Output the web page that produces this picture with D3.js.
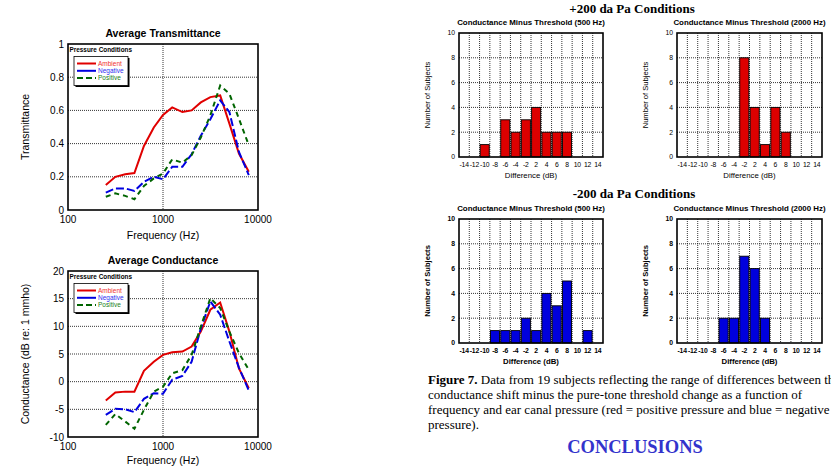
<!DOCTYPE html>
<html>
<head>
<meta charset="utf-8">
<script src="https://cdn.jsdelivr.net/npm/d3@7"></script>
<style>
  body { margin: 0; background: #fff; }
  svg { display: block; font-family: "Liberation Sans", Arial, sans-serif; }
  .grid line { stroke: #000; stroke-width: 0.8; stroke-dasharray: 1 1; }
  .serif { font-family: "Liberation Serif", "Times New Roman", serif; }
</style>
</head>
<body>
<svg id="fig" width="831" height="466"></svg>
<script>
// frequencies (Hz), 1/3 octave
const freqs = [250, 315, 400, 500, 630, 800, 1000, 1250, 1600, 2000, 2500, 3150, 4000, 5000, 6300, 8000];

const transAmbient  = [0.15, 0.20, 0.215, 0.223, 0.386, 0.497, 0.573, 0.618, 0.59, 0.60, 0.648, 0.68, 0.69, 0.52, 0.34, 0.23];
const transNegative = [0.105, 0.13, 0.13, 0.115, 0.17, 0.20, 0.185, 0.26, 0.26, 0.336, 0.447, 0.547, 0.66, 0.59, 0.35, 0.21];
const transPositive = [0.08, 0.10, 0.085, 0.065, 0.145, 0.19, 0.22, 0.305, 0.285, 0.33, 0.437, 0.57, 0.75, 0.70, 0.55, 0.39];

const condAmbient  = [-3.4, -1.95, -1.8, -1.8, 1.96, 3.6, 4.85, 5.3, 5.45, 6.35, 9.05, 13.0, 14.3, 9.05, 2.4, -1.2];
const condNegative = [-6.0, -4.9, -5.0, -5.5, -3.1, -2.1, -2.2, 0.35, 1.05, 3.6, 9.6, 14.5, 12.1, 7.25, 2.55, -1.6];
const condPositive = [-7.8, -5.85, -7.2, -8.5, -5.1, -1.8, -0.9, 1.5, 2.1, 4.85, 9.95, 15.1, 13.3, 9.05, 5.15, 2.15];

const seriesNames = ["Ambient", "Negative", "Positive"];
const seriesColors = ["#e00000", "#0000e0", "#006400"];
const legendTextColors = ["#f03030", "#3030f0", "#208020"];
const seriesDash = [null, "8 3", "5 4"];

// histogram categories (dB difference)
const diffCats = ["-14", "-12", "-10", "-8", "-6", "-4", "-2", "2", "4", "6", "8", "10", "12", "14"];
const pos500  = [0, 0, 1, 0, 3, 2, 3, 4, 2, 2, 2, 0, 0, 0];
const pos2000 = [0, 0, 0, 0, 0, 0, 8, 4, 1, 4, 2, 0, 0, 0];
const neg500  = [0, 0, 0, 1, 1, 1, 2, 1, 4, 3, 5, 0, 1, 0];
const neg2000 = [0, 0, 0, 0, 2, 2, 7, 6, 2, 0, 0, 0, 0, 0];

const captionLines = [
  ["Figure 7.", " Data from 19 subjects reflecting the range of differences between the"],
  ["", "conductance shift minus the pure-tone threshold change as a function of"],
  ["", "frequency and ear canal pressure (red = positive pressure and blue = negative"],
  ["", "pressure)."]
];

const svg = d3.select("#fig");

function lineChart(opt) {
  const g = svg.append("g");
  const x = d3.scaleLog().domain([100, 10000]).range([opt.x0, opt.x1]);
  const y = d3.scaleLinear().domain(opt.yDomain).range([opt.y1, opt.y0]);

  const grid = g.append("g").attr("class", "grid");
  grid.selectAll(".hy").data(opt.yTicks.slice(1, -1)).enter().append("line")
    .attr("x1", opt.x0).attr("x2", opt.x1)
    .attr("y1", d => y(d)).attr("y2", d => y(d));
  grid.append("line")
    .attr("x1", x(1000)).attr("x2", x(1000))
    .attr("y1", opt.y0).attr("y2", opt.y1);

  const line = d3.line().x((d, i) => x(freqs[i])).y(d => y(d));
  opt.series.forEach((s, k) => {
    g.append("path").datum(s)
      .attr("d", line)
      .attr("fill", "none")
      .attr("stroke", seriesColors[k])
      .attr("stroke-width", 2)
      .attr("stroke-dasharray", seriesDash[k]);
  });

  g.append("rect")
    .attr("x", opt.x0).attr("y", opt.y0)
    .attr("width", opt.x1 - opt.x0).attr("height", opt.y1 - opt.y0)
    .attr("fill", "none").attr("stroke", "#000").attr("stroke-width", 1.6);

  // tick labels
  g.selectAll(".yt").data(opt.yTicks).enter().append("text")
    .attr("x", opt.x0 - 4).attr("y", d => y(d) + 3.5)
    .attr("text-anchor", "end").attr("font-size", 10)
    .text(d => opt.yFmt(d));
  g.selectAll(".xt").data([100, 1000, 10000]).enter().append("text")
    .attr("x", d => x(d)).attr("y", opt.y1 + 13)
    .attr("text-anchor", "middle").attr("font-size", 10)
    .text(d => d);

  g.append("text")
    .attr("x", (opt.x0 + opt.x1) / 2).attr("y", opt.y1 + opt.xLabelDy)
    .attr("text-anchor", "middle").attr("font-size", 10.5)
    .text("Frequency (Hz)");
  g.append("text")
    .attr("transform", `translate(${opt.yLabelX},${(opt.y0 + opt.y1) / 2}) rotate(-90)`)
    .attr("text-anchor", "middle").attr("font-size", 10.5)
    .text(opt.yLabel);
  g.append("text")
    .attr("x", (opt.x0 + opt.x1) / 2).attr("y", opt.y0 - 7)
    .attr("text-anchor", "middle").attr("font-size", 10.5).attr("font-weight", "bold")
    .text(opt.title);

  // legend
  g.append("text")
    .attr("x", opt.x0 + 1.5).attr("y", opt.y0 + 8.3)
    .attr("font-size", 6.4).attr("font-weight", "bold")
    .text("Pressure Conditions");
  const lx = opt.x0 + 6, ly = opt.y0 + 12.5;
  g.append("rect").attr("x", lx + 1.5).attr("y", ly + 1.5).attr("width", 54).attr("height", 29).attr("fill", "#000");
  g.append("rect").attr("x", lx).attr("y", ly).attr("width", 54).attr("height", 29)
    .attr("fill", "#fff").attr("stroke", "#000").attr("stroke-width", 0.8);
  seriesNames.forEach((n, k) => {
    const yy = ly + 7 + k * 7.3;
    g.append("line").attr("x1", lx + 3).attr("x2", lx + 22).attr("y1", yy).attr("y2", yy)
      .attr("stroke", seriesColors[k]).attr("stroke-width", 2)
      .attr("stroke-dasharray", k === 2 ? "6 3" : null);
    g.append("text").attr("x", lx + 24).attr("y", yy + 2.2)
      .attr("font-size", 6.5).attr("fill", legendTextColors[k]).text(n);
  });
}

lineChart({
  x0: 68, x1: 258, y0: 44, y1: 210,
  yDomain: [0, 1], yTicks: [0, 0.2, 0.4, 0.6, 0.8, 1],
  yFmt: d => d === 0 || d === 1 ? d : d3.format(".1f")(d),
  yLabel: "Transmittance", yLabelX: 29, xLabelDy: 29,
  title: "Average Transmittance",
  series: [transAmbient, transNegative, transPositive]
});

lineChart({
  x0: 68, x1: 258, y0: 271, y1: 437,
  yDomain: [-10, 20], yTicks: [-10, -5, 0, 5, 10, 15, 20],
  yFmt: d => d,
  yLabel: "Conductance (dB re: 1 mmho)", yLabelX: 29, xLabelDy: 26.5,
  title: "Average Conductance",
  series: [condAmbient, condNegative, condPositive]
});

function histogram(opt) {
  const g = svg.append("g");
  const x = d3.scaleBand().domain(diffCats).range([opt.x0, opt.x1]).paddingInner(0.12).paddingOuter(0.06);
  const xb = d3.scaleBand().domain(diffCats).range([opt.x0, opt.x1]);
  const y = d3.scaleLinear().domain([0, 10]).range([opt.y1, opt.y0]);
  const fw = opt.bold ? "bold" : "normal";

  const grid = g.append("g").attr("class", "grid");
  grid.selectAll(".hy").data([2, 4, 6, 8]).enter().append("line")
    .attr("x1", opt.x0).attr("x2", opt.x1)
    .attr("y1", d => y(d)).attr("y2", d => y(d));
  grid.selectAll(".vx").data(diffCats.slice(1)).enter().append("line")
    .attr("x1", d => xb(d)).attr("x2", d => xb(d))
    .attr("y1", opt.y0).attr("y2", opt.y1);

  g.selectAll(".bar").data(opt.values.map((v, i) => ({ c: diffCats[i], v })).filter(d => d.v > 0))
    .enter().append("rect")
    .attr("x", d => x(d.c)).attr("width", x.bandwidth())
    .attr("y", d => y(d.v)).attr("height", d => y(0) - y(d.v))
    .attr("fill", opt.color).attr("stroke", "#000").attr("stroke-width", 0.9);

  g.append("rect")
    .attr("x", opt.x0).attr("y", opt.y0)
    .attr("width", opt.x1 - opt.x0).attr("height", opt.y1 - opt.y0)
    .attr("fill", "none").attr("stroke", "#000").attr("stroke-width", 1.6);

  g.selectAll(".yt").data([0, 2, 4, 6, 8, 10]).enter().append("text")
    .attr("x", opt.x0 - 4).attr("y", d => y(d) + 2.4)
    .attr("text-anchor", "end").attr("font-size", 6.8).attr("font-weight", fw)
    .text(d => d);
  g.selectAll(".xt").data(diffCats).enter().append("text")
    .attr("x", d => xb(d) + xb.bandwidth() / 2).attr("y", opt.y1 + 9.5)
    .attr("text-anchor", "middle").attr("font-size", 6.8).attr("font-weight", fw)
    .attr("letter-spacing", -0.2)
    .text(d => d);
  g.append("text")
    .attr("x", (opt.x0 + opt.x1) / 2).attr("y", opt.y1 + 21)
    .attr("text-anchor", "middle").attr("font-size", 7.8).attr("font-weight", fw)
    .text("Difference (dB)");
  g.append("text")
    .attr("transform", `translate(${opt.x0 - 29},${(opt.y0 + opt.y1) / 2}) rotate(-90)`)
    .attr("text-anchor", "middle").attr("font-size", 7.6).attr("font-weight", fw)
    .text("Number of Subjects");
  g.append("text")
    .attr("x", (opt.x0 + opt.x1) / 2).attr("y", opt.y0 - 8)
    .attr("text-anchor", "middle").attr("font-size", 7.9).attr("font-weight", "bold")
    .text(opt.title);
}

histogram({ x0: 459, x1: 603, y0: 33, y1: 157, values: pos500, color: "#dd0000", title: "Conductance Minus Threshold (500 Hz)" });
histogram({ x0: 677, x1: 822, y0: 33, y1: 157, values: pos2000, color: "#dd0000", title: "Conductance Minus Threshold (2000 Hz)" });
histogram({ x0: 459, x1: 603, y0: 219, y1: 343, values: neg500, color: "#0000dd", title: "Conductance Minus Threshold (500 Hz)", bold: true });
histogram({ x0: 677, x1: 822, y0: 219, y1: 343, values: neg2000, color: "#0000dd", title: "Conductance Minus Threshold (2000 Hz)", bold: true });

svg.append("text").attr("class", "serif")
  .attr("x", 632).attr("y", 13).attr("text-anchor", "middle")
  .attr("font-size", 13).attr("font-weight", "bold")
  .text("+200 da Pa Conditions");
svg.append("text").attr("class", "serif")
  .attr("x", 634).attr("y", 198).attr("text-anchor", "middle")
  .attr("font-size", 13).attr("font-weight", "bold")
  .text("-200 da Pa Conditions");

captionLines.forEach((l, i) => {
  const t = svg.append("text").attr("class", "serif")
    .attr("x", 428).attr("y", 383.5 + i * 15).attr("font-size", 13);
  if (l[0]) t.append("tspan").attr("font-weight", "bold").text(l[0]);
  t.append("tspan").text(l[1]);
});

svg.append("text").attr("class", "serif")
  .attr("x", 635).attr("y", 453).attr("text-anchor", "middle")
  .attr("font-size", 18.5).attr("font-weight", "bold").attr("fill", "#3333cc")
  .text("CONCLUSIONS");
</script>
</body>
</html>
